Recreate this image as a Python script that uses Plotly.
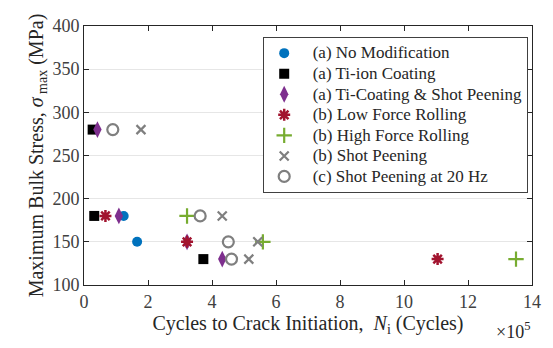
import plotly.graph_objects as go

# Cycles to crack initiation (x 10^5) and maximum bulk stress (MPa) per treatment
names = [
    "(a) No Modification",
    "(a) Ti-ion Coating",
    "(a) Ti-Coating &amp; Shot Peening",
    "(b) Low Force Rolling",
    "(b) High Force Rolling",
    "(b) Shot Peening",
    "(c) Shot Peening at 20 Hz",
]
cycles = [
    [1.24, 1.66],
    [0.27, 0.32, 3.73],
    [0.42, 1.09, 3.22, 4.32],
    [0.67, 3.22, 11.05],
    [3.22, 5.59, 13.5],
    [1.78, 4.32, 5.43, 5.15],
    [0.90, 3.63, 4.51, 4.61],
]
stress = [
    [180, 150],
    [280, 180, 130],
    [280, 180, 150, 130],
    [180, 150, 130],
    [180, 150, 130],
    [280, 180, 150, 130],
    [280, 180, 150, 130],
]
x_ticks = [0, 2, 4, 6, 8, 10, 12, 14]
y_ticks = [100, 150, 200, 250, 300, 350, 400]

colors = ["#0072BD", "#000000", "#7E2F8E", "#A2142F", "#77AC30", "#7F7F7F", "#7F7F7F"]
symbols = ["circle", "square", "diamond-tall", "asterisk-open", "cross-thin-open",
           "x-thin-open", "circle-open"]
sizes = [10, 10, 12, 10, 11, 9, 11]
line_widths = [0, 0, 0, 2.5, 2.2, 2.2, 2.2]

fig = go.Figure()
for name, xs, ys, c, s, sz, lw in zip(names, cycles, stress, colors, symbols, sizes, line_widths):
    fig.add_trace(go.Scatter(
        x=xs, y=ys, mode="markers",
        # larger label text inside a compact legend row
        name='<span style="font-size:17px">&nbsp;&nbsp;%s</span>' % name,
        marker=dict(symbol=s, size=sz, color=c, line=dict(color=c, width=lw)),
    ))

serif = "Liberation Serif, Times New Roman, serif"
axis_common = dict(
    showline=True, linecolor="#262626", linewidth=1, mirror="ticks",
    ticks="inside", ticklen=5, tickcolor="#262626",
    zeroline=False, tickfont=dict(family=serif, size=18, color="#404040"),
)

fig.update_layout(
    width=553, height=348,
    margin=dict(l=84, r=16, t=26, b=63),
    paper_bgcolor="white", plot_bgcolor="white",
    font=dict(family=serif, color="#262626"),
    xaxis=dict(range=[0, 14], tickvals=x_ticks, showgrid=False,
               title=dict(text="Cycles to Crack Initiation,  <i>N</i><sub>i</sub> (Cycles)",
                          font=dict(family=serif, size=20, color="#262626"), standoff=2),
               **axis_common),
    yaxis=dict(range=[100, 400], tickvals=y_ticks, showgrid=True, gridcolor="#E6E6E6",
               title=dict(text="Maximum Bulk Stress, <i>σ</i><sub> max</sub> (MPa)",
                          font=dict(family=serif, size=20, color="#262626"), standoff=3),
               **axis_common),
    legend=dict(x=0.40, y=0.958, xanchor="left", yanchor="top",
                bgcolor="white", bordercolor="#404040", borderwidth=1,
                font=dict(family=serif, size=13.5, color="#262626"),
                tracegroupgap=0),
    showlegend=True,
)

fig.add_annotation(text="×10<sup>5</sup>", xref="paper", yref="paper",
                   x=1.0, y=-0.175, xanchor="right", yanchor="middle", showarrow=False,
                   font=dict(family=serif, size=18, color="#262626"))

fig.write_html("out.html")
